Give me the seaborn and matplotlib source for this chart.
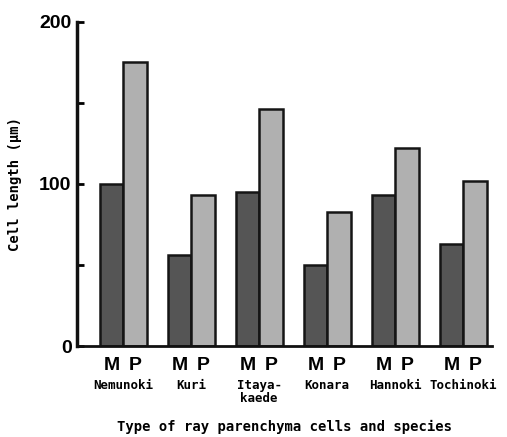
import pandas as pd
import matplotlib
matplotlib.use("Agg")
import matplotlib.pyplot as plt
import seaborn as sns

# values (cell length, um)
species = ["Nemunoki", "Kuri", "Itaya-\nkaede", "Konara", "Hannoki", "Tochinoki"]
m_cells = [100, 56, 95, 50, 93, 63]
p_cells = [175, 93, 146, 83, 122, 102]
cell_types = ["M", "P"]

df = pd.DataFrame({
    "species": species * 2,
    "length": m_cells + p_cells,
    "type": ["M"] * len(species) + ["P"] * len(species),
})

sns.set_style("white", {"text.color": "black", "axes.labelcolor": "black",
                        "xtick.color": "black", "ytick.color": "black",
                        "ytick.left": True})
plt.rcParams["font.family"] = ["Liberation Sans", "DejaVu Sans"]
mono = "DejaVu Sans Mono"

fig = plt.figure(figsize=(5.07, 4.37), dpi=100)
ax = fig.add_axes([0.152, 0.208, 0.818, 0.742])

sns.barplot(data=df, x="species", y="length", hue="type", hue_order=cell_types,
            palette=["#555555", "#b0b0b0"], width=0.69, saturation=1,
            edgecolor="#151515", linewidth=1.8, legend=False, ax=ax)

ax.set_xlim(-0.676, 5.42)
ax.set_ylim(0, 200)

# M / P under each bar
centers, labels = [], []
for k, t in enumerate(cell_types):
    for p in ax.patches[k * len(species):(k + 1) * len(species)]:
        centers.append(p.get_x() + p.get_width() / 2)
        labels.append(t)
ax.set_xticks(centers)
ax.set_xticklabels(labels, fontsize=14, fontweight="bold")
ax.tick_params(axis="x", length=0, pad=8)

for i, name in enumerate(species):
    ax.annotate(name, xy=(i, 0), xycoords=("data", "axes fraction"),
                xytext=(0, -24), textcoords="offset points",
                ha="center", va="top", multialignment="center",
                fontsize=9, fontweight="bold", family=mono, linespacing=0.95)

ax.set_yticks([0, 100, 200])
ax.set_yticklabels(["0", "100", "200"], fontsize=14, fontweight="bold")
ax.set_yticks([50, 150], minor=True)
ax.tick_params(axis="y", which="both", left=True, direction="in",
               length=5, width=2, pad=4, colors="black")

for s in ["top", "right"]:
    ax.spines[s].set_visible(False)
ax.spines["left"].set_linewidth(2.5)
ax.spines["bottom"].set_linewidth(2)
ax.spines["left"].set_color("#111111")
ax.spines["bottom"].set_color("#111111")

ax.set_ylabel("Cell length (\u03bcm)", fontsize=10, fontweight="bold", family=mono, labelpad=12)
ax.set_xlabel("Type of ray parenchyma cells and species", fontsize=10,
              fontweight="bold", family=mono, labelpad=33)

fig.savefig("out.png", dpi=100)
